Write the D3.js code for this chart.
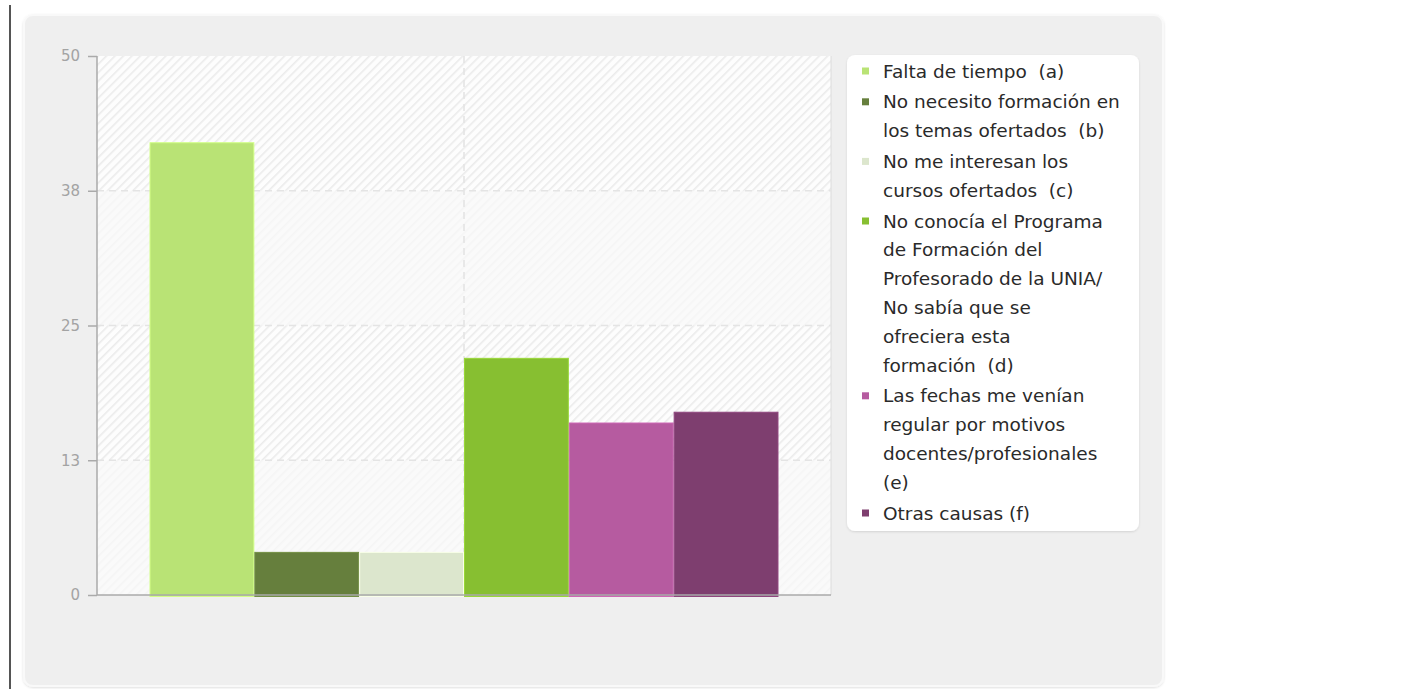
<!DOCTYPE html>
<html>
<head>
<meta charset="utf-8">
<script src="https://cdn.jsdelivr.net/npm/d3@7"></script>
<style>
  body { margin: 0; background: #fff; }
  svg { display: block; font-family: "DejaVu Sans", sans-serif; }
</style>
</head>
<body>
<div class="chart"></div>
<script>
const w = 1428;
const h = 689;

// data
const categories = [""];
const seriesKeys = ["a", "b", "c", "d", "e", "f"];
const seriesValues = [42, 4, 4, 22, 16, 17];
const seriesColors = ["#b9e375", "#667f3d", "#dce6cd", "#87bf31", "#b65ba0", "#7e3e6f"];
const legendLines = [
  ["Falta de tiempo  (a)"],
  ["No necesito formación en", "los temas ofertados  (b)"],
  ["No me interesan los", "cursos ofertados  (c)"],
  ["No conocía el Programa", "de Formación del", "Profesorado de la UNIA/", "No sabía que se", "ofreciera esta", "formación  (d)"],
  ["Las fechas me venían", "regular por motivos", "docentes/profesionales", "(e)"],
  ["Otras causas (f)"]
];
const tickValues = [0, 12.5, 25, 37.5, 50];
const tickLabels = ["0", "13", "25", "38", "50"];

const plot = {left: 97, top: 56, right: 831, bottom: 595};

const svg = d3.select(".chart")
  .append("svg")
  .attr("width", w)
  .attr("height", h);

const defs = svg.append("defs");
const hatch = defs.append("pattern")
  .attr("id", "hatch")
  .attr("patternUnits", "userSpaceOnUse")
  .attr("width", 6)
  .attr("height", 6)
  .attr("patternTransform", "rotate(45)");
hatch.append("rect").attr("width", 6).attr("height", 6).attr("fill", "#fdfdfd");
hatch.append("rect").attr("width", 1.6).attr("height", 6).attr("fill", "#ebebeb");

const shadow = defs.append("filter").attr("id", "shadow")
  .attr("x", "-5%").attr("y", "-5%").attr("width", "110%").attr("height", "110%");
shadow.append("feDropShadow").attr("dx", 0).attr("dy", 1).attr("stdDeviation", 1.2)
  .attr("flood-color", "#000").attr("flood-opacity", 0.12);

// left page rule
svg.append("rect").attr("x", 9).attr("y", 5).attr("width", 2).attr("height", h - 5).attr("fill", "#555");

// panel
svg.append("rect")
  .attr("x", 24).attr("y", 15).attr("width", 1139).attr("height", 671)
  .attr("rx", 9)
  .attr("fill", "#efefef")
  .attr("stroke", "#f9f9f9")
  .attr("stroke-width", 2)
  .attr("filter", "url(#shadow)");

// scales
const y = d3.scaleLinear().domain([0, 50]).range([plot.bottom, plot.top]);
const x0 = d3.scaleBand().domain(categories).range([plot.left, plot.right]).paddingInner(0).paddingOuter(0.0835);
const x1 = d3.scaleBand().domain(seriesKeys).range([0, x0.bandwidth()]).padding(0);

// plot background
svg.append("rect")
  .attr("x", plot.left).attr("y", plot.top)
  .attr("width", plot.right - plot.left).attr("height", plot.bottom - plot.top)
  .attr("fill", "url(#hatch)");

// flat alternate bands
const bands = [[0, 12.5], [25, 37.5]];
svg.append("g").selectAll("rect")
  .data(bands)
  .enter().append("rect")
  .attr("x", plot.left)
  .attr("y", d => y(d[1]))
  .attr("width", plot.right - plot.left)
  .attr("height", d => y(d[0]) - y(d[1]))
  .attr("fill", "#f8f8f8")
  .attr("opacity", 0.75);

// right border of plot
svg.append("line")
  .attr("x1", plot.right).attr("x2", plot.right)
  .attr("y1", plot.top).attr("y2", plot.bottom)
  .attr("stroke", "#dcdcdc");

// grid lines
svg.append("g").selectAll("line")
  .data(tickValues.filter(v => v > 0 && v < 50))
  .enter().append("line")
  .attr("x1", plot.left).attr("x2", plot.right)
  .attr("y1", d => y(d)).attr("y2", d => y(d))
  .attr("stroke", "#e4e4e4")
  .attr("stroke-width", 1.6)
  .attr("stroke-dasharray", "7,5");

svg.append("g").selectAll("line")
  .data(categories)
  .enter().append("line")
  .attr("x1", d => x0(d) + x0.bandwidth() / 2).attr("x2", d => x0(d) + x0.bandwidth() / 2)
  .attr("y1", plot.top).attr("y2", plot.bottom)
  .attr("stroke", "#e4e4e4")
  .attr("stroke-width", 1.6)
  .attr("stroke-dasharray", "7,5");

// bars
svg.append("g")
  .selectAll("g")
  .data(categories)
  .enter().append("g")
  .attr("transform", d => `translate(${x0(d)},0)`)
  .selectAll("rect")
  .data(seriesKeys.map((k, i) => ({key: k, value: seriesValues[i], color: seriesColors[i]})))
  .enter().append("rect")
  .attr("x", d => x1(d.key) + 0.5)
  .attr("y", d => y(d.value) + 0.5)
  .attr("width", x1.bandwidth() - 1)
  .attr("height", d => y(0) - y(d.value) + 1)
  .attr("fill", d => d.color)
  .attr("stroke", d => d3.color(d.color).brighter(0.35))
  .attr("stroke-width", 1);

// axes
const yAxis = d3.axisLeft(y)
  .tickValues(tickValues)
  .tickFormat((d, i) => tickLabels[i])
  .tickSize(9)
  .tickPadding(8);

const ya = svg.append("g")
  .attr("transform", `translate(${plot.left},0)`)
  .call(yAxis);
ya.select(".domain").remove();
ya.selectAll(".tick line").attr("stroke", "#aaa").attr("stroke-width", 1.5);
ya.selectAll(".tick text")
  .attr("fill", "#a3a3a3")
  .attr("font-size", "15px")
  .attr("font-family", "DejaVu Sans");

svg.append("line")
  .attr("x1", plot.left).attr("x2", plot.left)
  .attr("y1", plot.top).attr("y2", plot.bottom)
  .attr("stroke", "#aaa").attr("stroke-width", 1.5);
svg.append("line")
  .attr("x1", plot.left).attr("x2", plot.right)
  .attr("y1", plot.bottom).attr("y2", plot.bottom)
  .attr("stroke", "#aaa").attr("stroke-width", 1.5);

// legend
const legend = svg.append("g").attr("transform", "translate(847,55)");
legend.append("rect")
  .attr("width", 292).attr("height", 476)
  .attr("rx", 8)
  .attr("fill", "#fff")
  .attr("filter", "url(#shadow)");

const lineH = 28.8;
const itemGap = 2;
let cursor = 16;
legendLines.forEach((lines, i) => {
  const item = legend.append("g").attr("transform", `translate(0,${cursor})`);
  item.append("rect")
    .attr("x", 15).attr("y", -3.5)
    .attr("width", 7).attr("height", 7)
    .attr("fill", seriesColors[i]);
  item.selectAll("text")
    .data(lines)
    .enter().append("text")
    .attr("x", 36)
    .attr("y", (d, j) => j * lineH)
    .attr("dy", "0.36em")
    .attr("font-size", "18.5px")
    .attr("fill", "#2a2a2a")
    .style("white-space", "pre")
    .text(d => d);
  cursor += lines.length * lineH + itemGap;
});
</script>
</body>
</html>
